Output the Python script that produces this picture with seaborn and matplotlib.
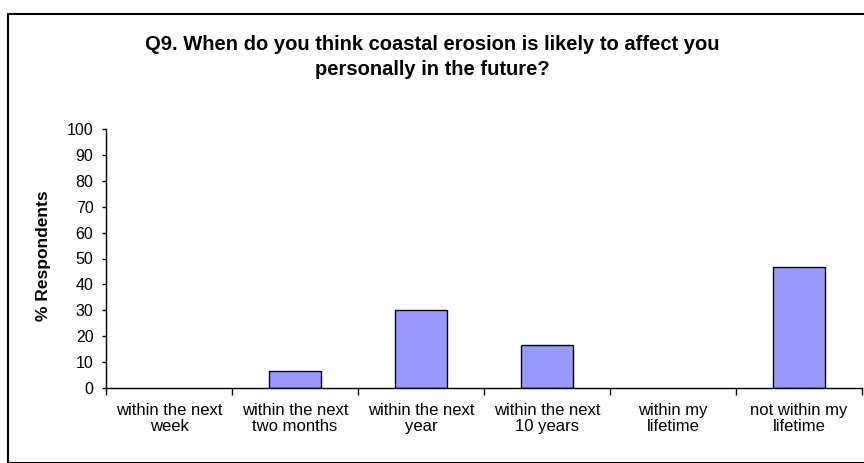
import numpy as np
import pandas as pd
import seaborn as sns
import matplotlib
matplotlib.use('Agg')
from matplotlib import pyplot as plt
from matplotlib.patches import Rectangle

categories = ['within the next\nweek', 'within the next\ntwo months', 'within the next\nyear',
              'within the next\n10 years', 'within my\nlifetime', 'not within my\nlifetime']
percent = [0.0, 6.7, 30.0, 16.7, 0.0, 46.7]
title = 'Q9. When do you think coastal erosion is likely to affect you\npersonally in the future?'
y_label = '% Respondents'

sns.set_theme(style='white')
plt.rcParams['font.family'] = ['Liberation Sans', 'DejaVu Sans']
plt.rcParams['text.color'] = 'black'
plt.rcParams['axes.labelcolor'] = 'black'
plt.rcParams['xtick.color'] = 'black'
plt.rcParams['ytick.color'] = 'black'

df = pd.DataFrame({'category': categories, 'percent': percent})

fig = plt.figure(figsize=(8.64, 4.63), dpi=100)
ax = fig.add_axes([106 / 864, 1 - 388 / 463, 756 / 864, 259 / 463])

sns.barplot(data=df, x='category', y='percent', color='#9999ff', saturation=1,
            width=0.41, edgecolor='black', linewidth=1, ax=ax)
# empty categories show no outline in the original
for bar in ax.patches:
    if bar.get_height() == 0:
        bar.set_linewidth(0)

ax.set_xlim(-0.5, len(categories) - 0.5)
ax.set_ylim(0, 100)
ax.set_yticks(np.arange(0, 101, 10))
ax.tick_params(axis='y', labelsize=11.5, length=3, width=1, direction='out', left=True, pad=6)
ax.set_xticks(range(len(categories)))
ax.set_xticklabels(categories, fontsize=12, linespacing=1.1)
ax.tick_params(axis='x', which='major', length=0, pad=11)
ax.set_xticks(np.arange(-0.5, len(categories), 1), minor=True)
ax.tick_params(axis='x', which='minor', length=5, width=1, direction='out', bottom=True)

for side in ['top', 'right']:
    ax.spines[side].set_visible(False)
for side in ['left', 'bottom']:
    ax.spines[side].set_color('black')
    ax.spines[side].set_linewidth(1)

ax.set_xlabel('')
ax.set_ylabel(y_label, fontsize=12.5, fontweight='bold', va='center')
ax.yaxis.set_label_coords(-62 / 756, 0.51)

fig.text(0.5, 1 - 57 / 463, title, ha='center', va='center', fontsize=14.5, fontweight='bold',
         linespacing=1.44)

fig.patches.append(Rectangle((8 / 864, 0), 2, 1 - 14 / 463, transform=fig.transFigure,
                             fill=False, edgecolor='black', linewidth=1.5))

plt.savefig('out.png', dpi=100)
